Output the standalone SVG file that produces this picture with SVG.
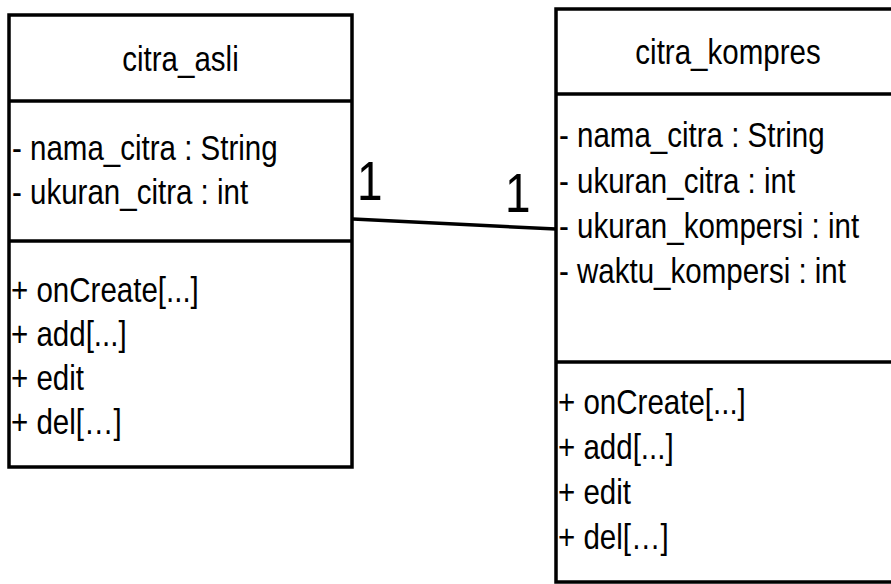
<svg xmlns="http://www.w3.org/2000/svg" width="891" height="584" viewBox="0 0 891 584">
<style>
.box{fill:#fff;stroke:#000;stroke-width:3.5}
.div{stroke:#000;stroke-width:3.5}
text{font-family:"Liberation Sans",Arial,sans-serif;font-size:36px;fill:#000}
.t{text-anchor:middle}
.m{font-size:56px}
</style>
<rect width="891" height="584" fill="#fff"/>
<g id="connectors">
<line x1="353" y1="219" x2="556" y2="229" stroke="#000" stroke-width="3.5"/>
<text class="m" transform="translate(357 200) scale(0.82 1)">1</text>
<text class="m" transform="translate(505 212) scale(0.82 1)">1</text>
</g>
<g id="citra_asli">
<rect class="box" x="9" y="15" width="343" height="452"/>
<line class="div" x1="9" y1="101" x2="352" y2="101"/>
<line class="div" x1="9" y1="241" x2="352" y2="241"/>
<text class="t" transform="translate(180.5 71) scale(0.82 1)">citra_asli</text>
<text transform="translate(12 160) scale(0.82 1)">- nama_citra : String</text>
<text transform="translate(12 204) scale(0.82 1)">- ukuran_citra : int</text>
<text transform="translate(11 302) scale(0.82 1)">+ onCreate[...]</text>
<text transform="translate(11 346) scale(0.82 1)">+ add[...]</text>
<text transform="translate(11 390) scale(0.82 1)">+ edit</text>
<text transform="translate(11 434) scale(0.82 1)">+ del[…]</text>
</g>
<g id="citra_kompres">
<rect class="box" x="556" y="9" width="345" height="573"/>
<line class="div" x1="556" y1="94" x2="901" y2="94"/>
<line class="div" x1="556" y1="362" x2="901" y2="362"/>
<text class="t" transform="translate(728 64) scale(0.82 1)">citra_kompres</text>
<text transform="translate(559 147) scale(0.82 1)">- nama_citra : String</text>
<text transform="translate(559 193) scale(0.82 1)">- ukuran_citra : int</text>
<text transform="translate(559 238) scale(0.82 1)">- ukuran_kompersi : int</text>
<text transform="translate(559 283) scale(0.82 1)">- waktu_kompersi : int</text>
<text transform="translate(558 414) scale(0.82 1)">+ onCreate[...]</text>
<text transform="translate(558 459) scale(0.82 1)">+ add[...]</text>
<text transform="translate(558 504) scale(0.82 1)">+ edit</text>
<text transform="translate(558 549) scale(0.82 1)">+ del[…]</text>
</g>
</svg>
